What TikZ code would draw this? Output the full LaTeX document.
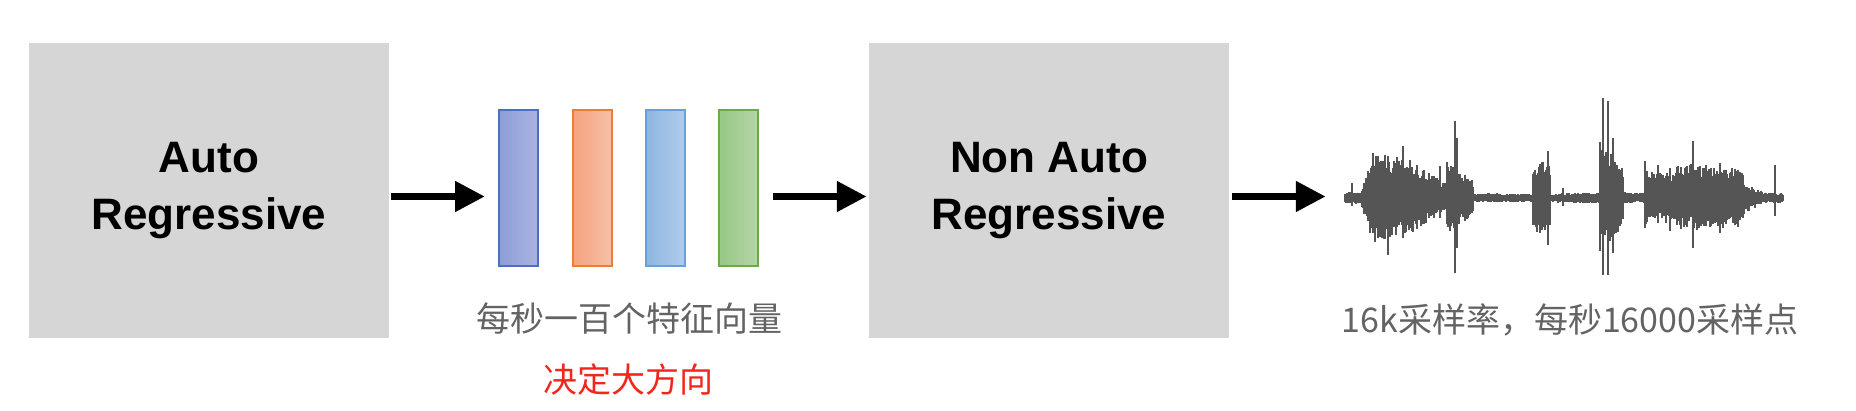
\documentclass[tikz,border=0pt]{standalone}
\usepackage{fontspec}
\setmainfont{Liberation Sans}
\newfontfamily\cjk{Noto Sans CJK SC}
\usepackage{xcolor}
\usepackage{tikz}
\usetikzlibrary{arrows.meta}

\definecolor{boxgray}{HTML}{D6D6D6}
\definecolor{notegray}{HTML}{636363}
\definecolor{notered}{HTML}{F2261B}
\definecolor{wavegray}{HTML}{555555}
\definecolor{vblue}{HTML}{4B6FC6}
\definecolor{vblueL}{HTML}{8C9ED8}
\definecolor{vblueR}{HTML}{AAB4E0}
\definecolor{vorange}{HTML}{ED7D31}
\definecolor{vorangeL}{HTML}{F5A27F}
\definecolor{vorangeR}{HTML}{F6C0A6}
\definecolor{vsky}{HTML}{6A9FD8}
\definecolor{vskyL}{HTML}{8EB6E2}
\definecolor{vskyR}{HTML}{B0CCEA}
\definecolor{vgreen}{HTML}{6BAA48}
\definecolor{vgreenL}{HTML}{97C786}
\definecolor{vgreenR}{HTML}{B5D5A6}

\begin{document}
\begin{tikzpicture}[x=1pt,y=1pt,
  block/.style={fill=boxgray, minimum width=360pt, minimum height=295pt,
    align=center, inner sep=0pt, font=\fontsize{44}{57}\selectfont\bfseries},
  vec/.style={minimum width=39pt, minimum height=156pt, inner sep=0pt, line width=2pt},
  flow/.style={line width=7.5pt, -{Triangle[length=30pt,width=29pt]}},
  note/.style={font=\cjk\fontsize{34}{40}\selectfont, text=notegray},
  wavebar/.style={draw=wavegray, line width=1.5pt}
]
\useasboundingbox (0,0) rectangle (1856,410);

% The blocks
\node[block] (ar) at (209,219.5) {Auto\\Regressive};
\node[block] (nar) at (1049,219.5) {Non Auto\\Regressive};

% The feature vectors
\node[vec, draw=vblue, left color=vblueL, right color=vblueR] (v1) at (518.5,222) {};
\node[vec, draw=vorange, left color=vorangeL, right color=vorangeR] (v2) at (592,222) {};
\node[vec, draw=vsky, left color=vskyL, right color=vskyR] (v3) at (665.5,222) {};
\node[vec, draw=vgreen, left color=vgreenL, right color=vgreenR] (v4) at (738.5,222) {};

% The waveform
\node[minimum width=438pt, minimum height=180pt, inner sep=0pt] (wave) at (1564,212) {};
\pgfmathsetseed{42}
\draw[wavegray, line width=3pt] (wave.west) -- (wave.east);
\foreach \xa/\xb/\ua/\ub in {1345/1362/5/6, 1362/1373/10/40, 1373/1417/40/32,
  1417/1447/28/12, 1447/1473/32/16, 1473/1533/4/4, 1533/1550/34/30,
  1550/1600/4/5, 1600/1623/50/26, 1623/1645/5/5, 1645/1677/24/22,
  1677/1743/31/26, 1743/1763/15/5, 1763/1783/5/4}{
  \pgfmathsetmacro\xs{\xa+1}
  \foreach \x in {\xa,\xs,...,\xb}{
    \pgfmathsetmacro\amp{\ua+(\ub-\ua)*(\x-\xa)/(\xb-\xa)}
    \pgfmathsetmacro\up{\amp*(0.65+0.5*rnd)}
    \pgfmathsetmacro\dn{\amp*(0.6+0.5*rnd)}
    \draw[wavebar] (\x,212+\up) -- (\x,212-\dn);
  }
}
% spikes
\foreach \x/\u/\d in {1352/15/8, 1388/40/57, 1403/52/40, 1440/32/20, 1455/77/75,
  1457/60/50, 1548/47/47, 1563/10/8, 1603/100/77, 1608/97/77, 1613/60/55,
  1645/37/30, 1658/33/25, 1670/30/33, 1693/57/50, 1720/35/35, 1775/33/18}{
  \draw[wavebar] (\x,212+\u) -- (\x,212-\d);
}

% The connectors
\draw[flow, shorten <=2pt, shorten >=13pt] ([yshift=-6pt]ar.east) -- ([yshift=-8.5pt]v1.west);
\draw[flow, shorten <=14pt, shorten >=2pt] ([yshift=-8.5pt]v4.east) -- ([yshift=-6pt]nar.west);
\draw[flow, shorten <=3pt] ([yshift=-6pt]nar.east) -- ([xshift=-19pt, yshift=1.5pt]wave.west);

% The labels
\node[note] (rate) at (629,92) {每秒一百个特征向量};
\node[note, text=notered] (dir) at (628,30) {决定大方向};
\node[note] (samp) at (1570,90) {16k采样率，每秒16000采样点};
\end{tikzpicture}
\end{document}
